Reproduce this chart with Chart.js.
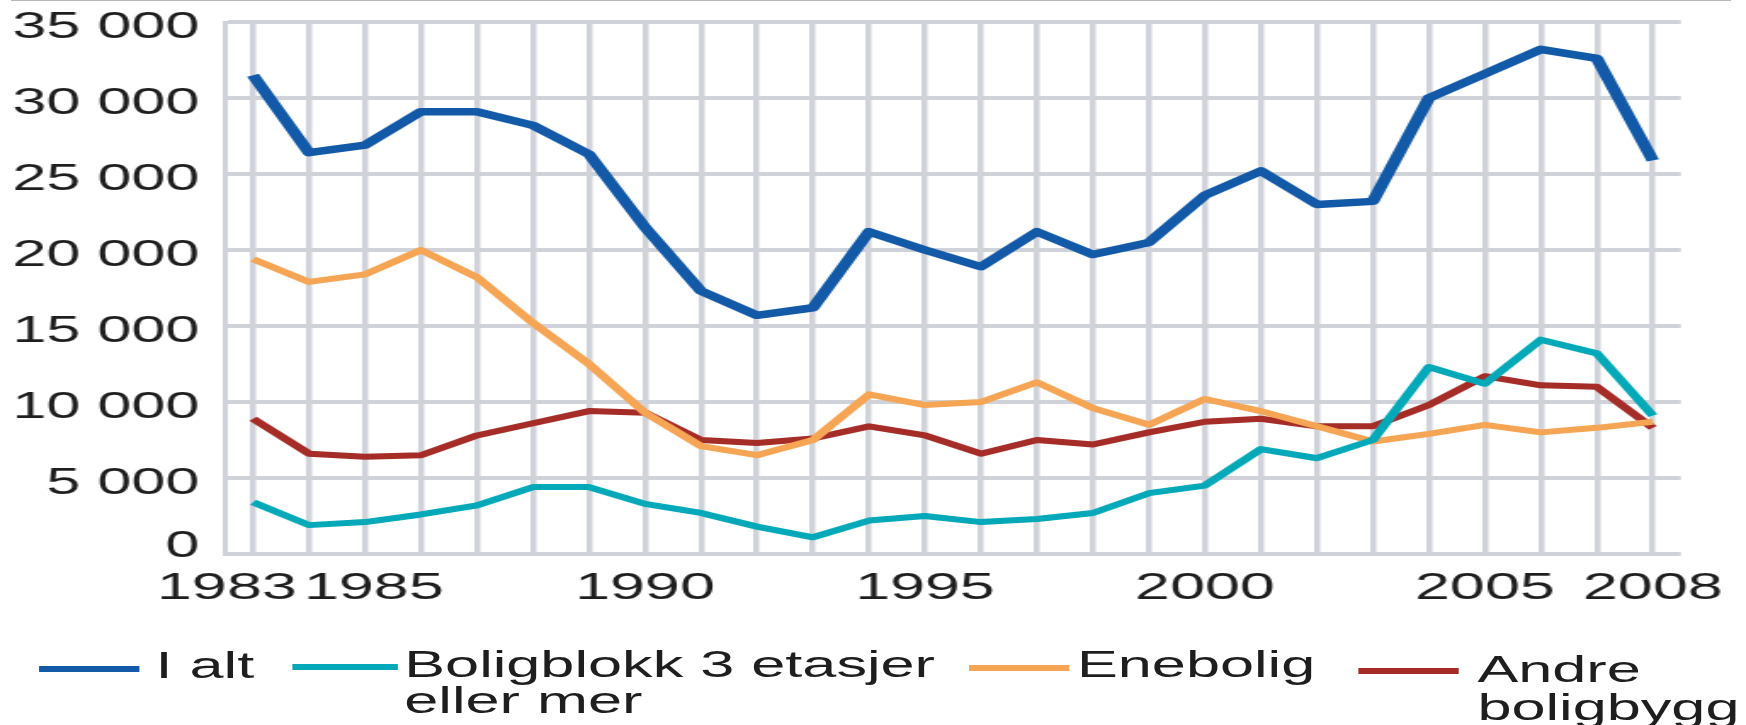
<!DOCTYPE html>
<html>
<head>
<meta charset="utf-8">
<script src="https://cdn.jsdelivr.net/npm/chart.js@4/dist/chart.umd.min.js"></script>
<style>
html,body{margin:0;padding:0;background:#fff;overflow:hidden;}
body{width:1746px;height:725px;position:relative;}
#topline{position:absolute;left:11px;top:0;width:1720px;height:1px;background:#b8b8b8;}
#stage{position:absolute;left:0;top:0;width:1027px;height:725px;transform-origin:0 0;transform:scaleX(1.70010);}
#stage canvas{position:absolute;left:0;top:0;}
.lg-line{position:absolute;height:6px;}
.lg-text{position:absolute;font-family:"Liberation Sans",Arial,sans-serif;font-size:36px;line-height:36px;color:#1e1e1e;white-space:nowrap;}
</style>
</head>
<body>
<div id="topline"></div>
<div id="stage">
  <canvas id="c" width="1027" height="725"></canvas>
  <div id="legend"></div>
</div>
<script>
// ---------- data ----------
const years = ['1983','1984','1985','1986','1987','1988','1989','1990','1991','1992','1993','1994','1995',
               '1996','1997','1998','1999','2000','2001','2002','2003','2004','2005','2006','2007','2008'];
const shownYears = ['1983','1985','1990','1995','2000','2005','2008'];
const yTickValues = [0, 5000, 10000, 15000, 20000, 25000, 30000, 35000];
const yTickLabels = ['0', '5 000', '10 000', '15 000', '20 000', '25 000', '30 000', '35 000'];

const seriesNames = ['I alt', 'Boligblokk 3 etasjer eller mer', 'Enebolig', 'Andre boligbygg'];
const legendLines = [['I alt'], ['Boligblokk 3 etasjer', 'eller mer'], ['Enebolig'], ['Andre', 'boligbygg']];

const iAlt       = [31500, 26400, 26900, 29100, 29100, 28200, 26300, 21500, 17300, 15700, 16200, 21200, 20000,
                    18900, 21200, 19700, 20500, 23600, 25200, 23000, 23200, 30000, 31600, 33200, 32600, 25900];
const boligblokk = [3400, 1900, 2100, 2600, 3200, 4400, 4400, 3300, 2700, 1800, 1100, 2200, 2500,
                    2100, 2300, 2700, 4000, 4500, 6900, 6300, 7500, 12300, 11200, 14100, 13200, 9100];
const enebolig   = [19400, 17900, 18400, 20000, 18200, 15200, 12500, 9300, 7100, 6500, 7500, 10500, 9800,
                    10000, 11300, 9600, 8500, 10200, 9400, 8400, 7400, 7900, 8500, 8000, 8300, 8700];
const andre      = [8900, 6600, 6400, 6500, 7800, 8600, 9400, 9300, 7500, 7300, 7600, 8400, 7800,
                    6600, 7500, 7200, 8000, 8700, 8900, 8400, 8400, 9800, 11700, 11100, 11000, 8300];

// ---------- styles ----------
const seriesData = [iAlt, boligblokk, enebolig, andre];
const colors = ['#1259a8', '#03a9b8', '#f5a554', '#a52c27'];
const widths = [7.5, 6, 6, 6];
const GRID = 'rgb(208,210,218)';
const TXT = '#1e1e1e';
const FONT = '"Liberation Sans", Arial, sans-serif';
// crowded tick labels nudged apart with spacing
const tickSpacing = { '1983': { after: '   ' }, '1985': { before: ' ' } };

const legendLayout = [
  { lineX: 22.9,  lineW: 58.8, lineY: 666, textX: 91.5,  baselines: [678] },
  { lineX: 172.4, lineW: 61.8, lineY: 664, textX: 237.8, baselines: [677, 713] },
  { lineX: 570.0, lineW: 58.8, lineY: 665, textX: 633.5, baselines: [677] },
  { lineX: 799.4, lineW: 58.8, lineY: 668, textX: 869.0, baselines: [682, 720] }
];
const LEGEND_BASELINE_SHIFT = 30.5;

// ---------- chart ----------
new Chart(document.getElementById('c'), {
  type: 'line',
  data: {
    labels: years,
    datasets: seriesNames.map((name, i) => ({
      label: name,
      data: seriesData[i],
      borderColor: colors[i],
      backgroundColor: colors[i],
      borderWidth: widths[i],
      pointRadius: 0,
      tension: 0,
      borderJoinStyle: 'round',
      borderCapStyle: 'butt',
      fill: false
    }))
  },
  options: {
    responsive: false,
    animation: false,
    events: [],
    layout: { padding: { left: 0, right: 34.1, top: 22, bottom: 111 } },
    plugins: { legend: { display: false }, tooltip: { enabled: false } },
    scales: {
      x: {
        type: 'category',
        offset: true,
        grid: { offset: false, color: GRID, lineWidth: 3.5, drawTicks: false },
        border: { display: false },
        ticks: {
          autoSkip: false, maxRotation: 0, minRotation: 0, padding: 13, color: TXT,
          font: { family: FONT, size: 37, lineHeight: 1.2 },
          callback: function (v, i) {
            const y = years[i];
            if (!shownYears.includes(y)) return '';
            const s = tickSpacing[y] || {};
            return (s.before || '') + y + (s.after || '');
          }
        },
        afterFit: s => { s.height = 60; }
      },
      y: {
        min: 0, max: 35000,
        grid: { color: GRID, lineWidth: 4, drawTicks: false },
        border: { display: true, color: GRID, width: 3 },
        ticks: {
          stepSize: 5000, padding: 15, labelOffset: 6, color: TXT,
          font: ctx => ({ family: FONT, size: 36, lineHeight: (ctx.tick && ctx.tick.value === 0) ? 26 / 36 : 10 / 36 }),
          callback: function (v) {
            const idx = yTickValues.indexOf(v);
            if (idx < 0) return '';
            return v === 0 ? [yTickLabels[idx], ''] : yTickLabels[idx];
          }
        },
        afterFit: s => { s.width = 132.35; }
      }
    }
  }
});

// ---------- legend ----------
const lg = document.getElementById('legend');
legendLines.forEach((lines, i) => {
  const L = legendLayout[i];
  const ln = document.createElement('div');
  ln.className = 'lg-line';
  ln.style.left = L.lineX + 'px';
  ln.style.width = L.lineW + 'px';
  ln.style.top = L.lineY + 'px';
  ln.style.background = colors[i];
  lg.appendChild(ln);
  lines.forEach((t, j) => {
    const d = document.createElement('div');
    d.className = 'lg-text';
    d.textContent = t;
    d.style.left = L.textX + 'px';
    d.style.top = (L.baselines[j] - LEGEND_BASELINE_SHIFT) + 'px';
    lg.appendChild(d);
  });
});
</script>
</body>
</html>
